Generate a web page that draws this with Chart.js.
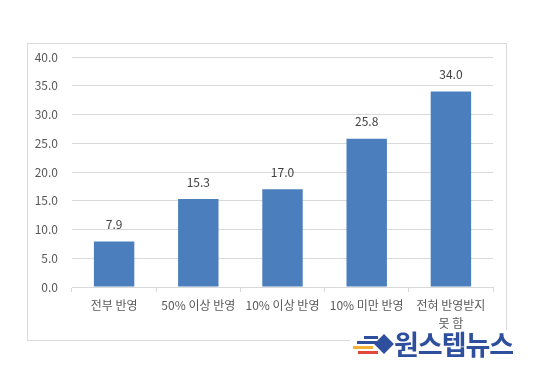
<!DOCTYPE html>
<html>
<head>
<meta charset="utf-8">
<script src="https://cdn.jsdelivr.net/npm/chart.js@4"></script>
<style>
  body { margin: 0; background: #fff; }
  #wrap { position: relative; width: 535px; height: 373px; }
  #frame { position: absolute; left: 27px; top: 43px; width: 480px; height: 298px; border: 1px solid #d9d9d9; box-sizing: border-box; }
  #myChart { position: absolute; left: 0; top: 0; }
  #logo { position: absolute; left: 350px; top: 330px; width: 170px; height: 30px; background: #fff; }
  #logo .txt { position: absolute; left: 44px; top: -6px; font: bold 27px "Noto Sans CJK KR"; color: #2e4f9e; letter-spacing: -1px; white-space: nowrap; }
  #logo .s { position: absolute; height: 3px; }
  #logo .dia { position: absolute; left: 27px; top: 7px; width: 14px; height: 14px; background: #2e4f9e; transform: rotate(45deg); }
</style>
</head>
<body>
<div id="wrap">
  <div id="frame"></div>
  <canvas id="myChart" width="535" height="373"></canvas>
  <div id="logo">
    <div class="s" style="left:14px;top:6px;width:14px;background:#2e4f9e"></div>
    <div class="s" style="left:7px;top:11px;width:20px;background:#2e4f9e"></div>
    <div class="s" style="left:3px;top:16px;width:20px;background:#f2b233"></div>
    <div class="s" style="left:8px;top:21px;width:20px;background:#e2483a"></div>
    <div class="dia"></div>
    <div class="txt">원스텝뉴스</div>
  </div>
</div>
<script>
const categories = ['전부 반영', '50% 이상 반영', '10% 이상 반영', '10% 미만 반영', ['전혀 반영받지', '못 함']];
const values = [7.9, 15.3, 17.0, 25.8, 34.0];
const yTicks = [0, 5, 10, 15, 20, 25, 30, 35, 40];

// draws the number above each bar
const valueLabels = {
    id: 'valueLabels',
    afterDatasetsDraw(chart) {
        const ctx = chart.ctx;
        const meta = chart.getDatasetMeta(0);
        ctx.save();
        ctx.font = '12px "Noto Sans CJK KR"';
        ctx.fillStyle = '#404040';
        ctx.textAlign = 'center';
        ctx.textBaseline = 'middle';
        meta.data.forEach(function(bar, i){
            ctx.fillText(values[i].toFixed(1), bar.x, bar.y - 17);
        });
        ctx.restore();
    }
};

const ctx = document.getElementById('myChart').getContext('2d');
const myChart = new Chart(ctx, {
    type: 'bar',
    data: {
        labels: categories,
        datasets: [{
            data: values,
            backgroundColor: '#4b7ebd',
            categoryPercentage: 0.48,
            barPercentage: 1
        }]
    },
    options: {
        responsive: false,
        animation: false,
        layout: { padding: { left: 27, top: 57, right: 42, bottom: 38 } },
        plugins: {
            legend: { display: false },
            title: { display: false },
            tooltip: { enabled: false }
        },
        scales: {
            y: {
                min: 0,
                max: 40,
                afterFit: function(scale){ scale.width = 45; },
                afterBuildTicks: function(scale){ scale.ticks = yTicks.map(v => ({ value: v })); },
                grid: { color: '#d9d9d9', drawTicks: false },
                border: { display: false },
                ticks: {
                    padding: 14,
                    color: '#595959',
                    font: { family: '"Noto Sans CJK KR"', size: 12 },
                    callback: function(value){ return value.toFixed(1); }
                }
            },
            x: {
                afterFit: function(scale){ scale.height = 48; },
                grid: { display: true, drawOnChartArea: false, drawTicks: true, tickLength: 5, color: '#d9d9d9', offset: true },
                border: { display: true, color: '#d9d9d9' },
                ticks: {
                    padding: 5,
                    color: '#595959',
                    maxRotation: 0,
                    autoSkip: false,
                    font: { family: '"Noto Sans CJK KR"', size: 12, lineHeight: 1.45 }
                }
            }
        }
    },
    plugins: [valueLabels]
});
</script>
</body>
</html>
